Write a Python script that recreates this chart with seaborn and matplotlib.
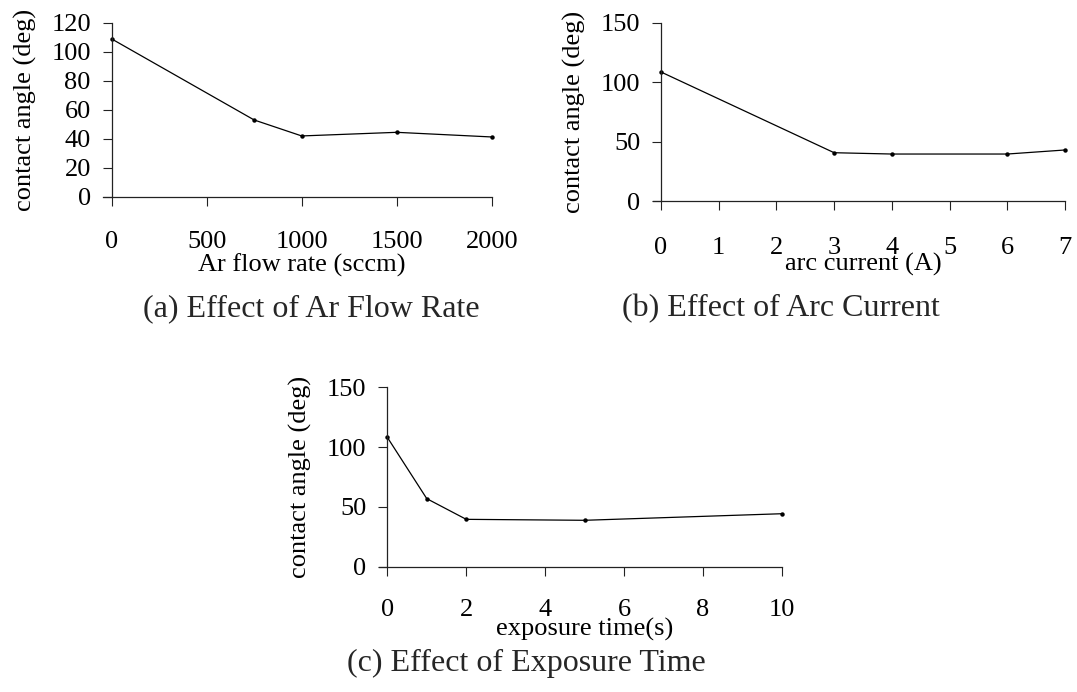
import matplotlib
matplotlib.use("Agg")
import matplotlib.pyplot as plt
import seaborn as sns
import pandas as pd

# ---- data ----
flow_rate = [0, 750, 1000, 1500, 2000]
angle_flow = [108.8, 52.9, 41.9, 44.4, 41.2]
flow_ticks = [0, 500, 1000, 1500, 2000]

arc_current = [0, 3, 4, 6, 7]
angle_arc = [108.6, 40.8, 39.7, 39.7, 43.1]
arc_ticks = [0, 1, 2, 3, 4, 5, 6, 7]

exposure_time = [0, 1, 2, 5, 10]
angle_exp = [108.2, 56.9, 39.6, 38.8, 44.3]
exp_ticks = [0, 2, 4, 6, 8, 10]

ylabel = "contact angle (deg)"
xlabels = ["Ar flow rate (sccm)", "arc current (A)", "exposure time(s)"]
titles = ["(a) Effect of Ar Flow Rate", "(b) Effect of Arc Current", "(c) Effect of Exposure Time"]

sns.set_theme(style="ticks")
plt.rcParams['font.family'] = ['Liberation Serif', 'DejaVu Serif']
plt.rcParams['axes.unicode_minus'] = False

W, H = 1077, 692
fig = plt.figure(figsize=(W / 100, H / 100), dpi=100)

# axes rectangles in pixels: left, right, top, bottom
rects = [
    (111.7, 491.7, 22.7, 196.7),
    (661.0, 1065.0, 22.7, 201.3),
    (387.3, 782.0, 387.3, 566.7),
]

panels = [
    (flow_rate, angle_flow, flow_ticks, (0, 2000), (0, 120), [0, 20, 40, 60, 80, 100, 120], 18, -0.325),
    (arc_current, angle_arc, arc_ticks, (0, 7), (0, 150), [0, 50, 100, 150], 19, -0.291),
    (exposure_time, angle_exp, exp_ticks, (0, 10), (0, 150), [0, 50, 100, 150], 17, -0.286),
]

fs = 19
for i, ((l, r, t, b), (xs, ys, xt, xlim, ylim, yt, xpad, xly)) in enumerate(zip(rects, panels)):
    ax = fig.add_axes([l / W, 1 - b / H, (r - l) / W, (b - t) / H])
    df = pd.DataFrame({"x": xs, "y": ys})
    sns.lineplot(data=df, x="x", y="y", ax=ax, color="black", linewidth=0.9,
                 marker="o", markersize=3.2, markeredgewidth=0, clip_on=False)
    ax.set_xlim(*xlim)
    ax.set_ylim(*ylim)
    ax.set_xticks(xt)
    ax.set_yticks(yt)
    for s in ["top", "right"]:
        ax.spines[s].set_visible(False)
    for s in ["left", "bottom"]:
        ax.spines[s].set_color("#222222")
        ax.spines[s].set_linewidth(0.9)
    ext = 8.5 / (r - l) * (xlim[1] - xlim[0])
    ax.spines["bottom"].set_bounds(xlim[0] - ext, xlim[1])
    ax.tick_params(axis="both", direction="out", length=6.5, width=0.8, color="#222222",
                   labelsize=fs, labelcolor="black")
    ax.tick_params(axis="x", pad=xpad)
    ax.tick_params(axis="y", pad=8.5)
    ax.set_xlabel(xlabels[i], fontsize=fs, color="black")
    ax.set_ylabel(ylabel, fontsize=fs, color="black")
    ax.xaxis.set_label_coords(0.5, xly)
    ax.yaxis.set_label_coords(-75 / (r - l), 0.5)
    ax.set_facecolor("white")

# panel captions
fig.text(142.7 / W, 1 - 316 / H, titles[0], fontsize=23, ha="left", va="baseline")
fig.text(622 / W, 1 - 316 / H, titles[1], fontsize=23, ha="left", va="baseline")
fig.text(347.3 / W, 1 - 671 / H, titles[2], fontsize=23, ha="left", va="baseline")

fig.savefig("out.png", dpi=100, facecolor="white")
